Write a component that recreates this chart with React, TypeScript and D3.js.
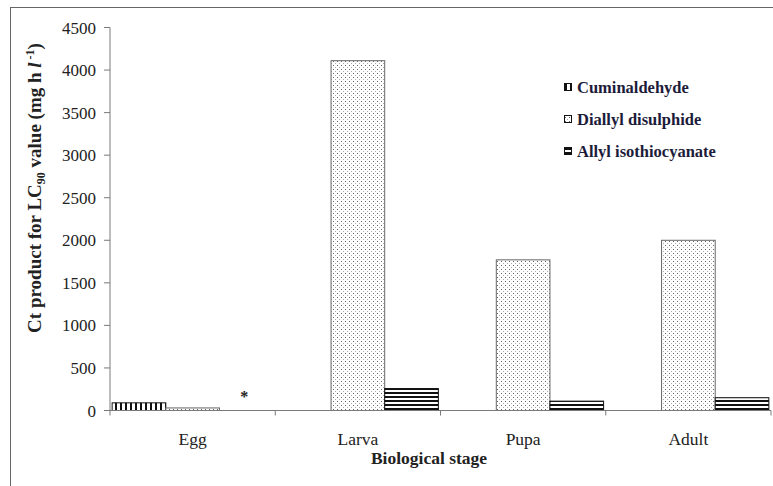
import React from 'react';
import * as d3 from 'd3';

const stages = ['Egg', 'Larva', 'Pupa', 'Adult'];
const seriesNames = ['Cuminaldehyde', 'Diallyl disulphide', 'Allyl isothiocyanate'];
const cuminaldehyde: (number | null)[] = [90, 0, 0, 0];
const diallylDisulphide: (number | null)[] = [30, 4110, 1770, 2000];
const allylIsothiocyanate: (number | null)[] = [null, 258, 110, 150];
const yTicks = [0, 500, 1000, 1500, 2000, 2500, 3000, 3500, 4000, 4500];

const seriesValues = [cuminaldehyde, diallylDisulphide, allylIsothiocyanate];
const patternIds = ['pVert', 'pDots', 'pHoriz'];
const strokes = ['#111', '#666', '#111'];

const W = 773, H = 486;
const serif = '"Liberation Serif", "Times New Roman", serif';

function T({ x, y, anchor = 'middle', size = 17, bold = false, fill = '#222', children }: any) {
  return (
    <text x={x} y={y} textAnchor={anchor} fontSize={size} fontWeight={bold ? 'bold' : 'normal'} fontFamily={serif} fill={fill}>
      {children}
    </text>
  );
}

export default function App() {
  const x0 = d3.scaleBand<string>().domain(stages).range([110, 771]).padding(0);
  const x1 = d3.scaleBand<string>().domain(seriesNames).range([0, x0.bandwidth()]).paddingInner(0).paddingOuter(0.04);
  const y = d3.scaleLinear().domain([0, 4500]).range([410.5, 27.5]);
  const axisColor = '#7a7a7a';
  const xTickPos = [...stages.map((s) => x0(s)!), 771];

  return (
    <svg width={W} height={H} style={{ position: 'absolute', left: 0, top: 0, background: '#fff' }}>
      <defs>
        <pattern id="pVert" width={5} height={5} patternUnits="userSpaceOnUse">
          <rect width={5} height={5} fill="#fff" />
          <rect x={0} width={2} height={5} fill="#111" />
        </pattern>
        <pattern id="pDots" width={4} height={4} patternUnits="userSpaceOnUse">
          <rect width={4} height={4} fill="#fff" />
          <rect x={1} y={1} width={1} height={1} fill="#666" />
          <rect x={3} y={3} width={1} height={1} fill="#aaa" />
        </pattern>
        <pattern id="pHoriz" width={4} height={4} patternUnits="userSpaceOnUse">
          <rect width={4} height={4} fill="#fff" />
          <rect y={0} width={4} height={2} fill="#111" />
        </pattern>
      </defs>
      <rect x={0} y={0} width={W} height={H} fill="#fff" />
      <rect x={10.5} y={7.5} width={900} height={700} fill="none" stroke="#666" />

      {/* bars */}
      {stages.map((st, i) => (
        <g key={st}>
          {seriesNames.map((sn, j) => {
            const v = seriesValues[j][i];
            const bx = x0(st)! + x1(sn)!;
            if (v === null) {
              return (
                <T key={sn} x={bx + x1.bandwidth() / 2 - 2} y={y(0) - 9} size={16} bold fill="#222">*</T>
              );
            }
            if (!v) return null;
            return (
              <rect key={sn} x={bx} y={y(v)} width={x1.bandwidth()} height={y(0) - y(v)}
                fill={`url(#${patternIds[j]})`} stroke={strokes[j]} strokeWidth={1} />
            );
          })}
        </g>
      ))}

      {/* y axis */}
      <line x1={110} x2={110} y1={y(4500)} y2={y(0)} stroke={axisColor} />
      {yTicks.map((t) => (
        <g key={t}>
          <line x1={104} x2={110} y1={y(t)} y2={y(t)} stroke={axisColor} />
          <T x={96} y={y(t) + 6} anchor="end" size={17}>{t}</T>
        </g>
      ))}

      {/* x axis */}
      <line x1={104} x2={771} y1={y(0)} y2={y(0)} stroke={axisColor} />
      {xTickPos.map((p, i) => (
        <line key={i} x1={p} x2={p} y1={y(0)} y2={y(0) + 5} stroke={axisColor} />
      ))}
      {stages.map((st) => (
        <T key={st} x={x0(st)! + x0.bandwidth() / 2} y={445} size={17.5}>{st}</T>
      ))}
      <T x={429} y={464} size={17.5} bold>Biological stage</T>

      {/* y label */}
      <g transform={`translate(41,188) rotate(-90)`}>
        <text x={0} y={0} textAnchor="middle" fontSize={19} fontWeight="bold" fontFamily={serif} fill="#222">
          Ct product for LC<tspan fontSize={12} dy={4}>90</tspan>
          <tspan dy={-4}> value (mg h </tspan>
          <tspan fontStyle="italic">l</tspan>
          <tspan fontSize={12} dy={-7}> -1</tspan>
          <tspan dy={7}>)</tspan>
        </text>
      </g>

      {/* legend */}
      {seriesNames.map((sn, j) => {
        const cy = 87 + j * 32;
        return (
          <g key={sn}>
            <rect x={564.5} y={cy - 3.5} width={7} height={7} fill={`url(#${patternIds[j]})`} stroke="#111" />
            <T x={577} y={cy + 5.5} anchor="start" size={16.5} bold fill="#1c1c3a">{sn}</T>
          </g>
        );
      })}
    </svg>
  );
}
